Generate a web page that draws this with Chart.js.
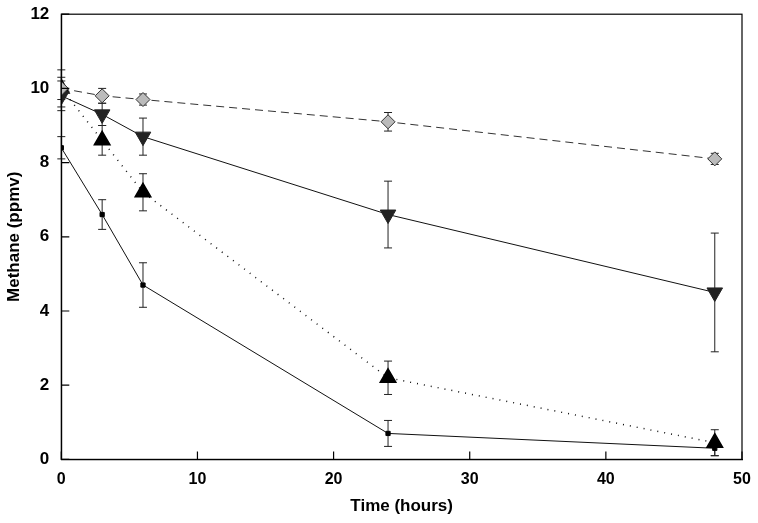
<!DOCTYPE html>
<html><head><meta charset="utf-8">
<script src="https://cdn.jsdelivr.net/npm/chart.js@4"></script>
<style>body{margin:0;background:#fff}#wrap{width:758px;height:523px}</style>
</head><body><div id="wrap"><canvas id="chart"></canvas></div>
<script>
const hores = [0, 3, 6, 24, 48];
const diamant = [10.0, 9.8, 9.7, 9.1, 8.1];
const diamantErr = [0.5, 0.2, 0.15, 0.25, 0.15];
const trInvers = [9.8, 9.3, 8.7, 6.6, 4.5];
const trInversErr = [0.4, 0.3, 0.5, 0.9, 1.6];
const triangle = [10.0, 8.6, 7.2, 2.2, 0.45];
const triangleErr = [0.3, 0.4, 0.5, 0.45, 0.35];
const quadrat = [8.4, 6.6, 4.7, 0.7, 0.3];
const quadratErr = [0.3, 0.4, 0.6, 0.35, 0.2];

function punts(vals, errs) {
  return hores.map((x, i) => ({ x: x, y: vals[i], e: errs[i] }));
}

// dibuixa les barres d'error fent servir les escales
const barresError = {
  id: 'barresError',
  beforeDatasetsDraw(chart) {
    const ctx = chart.ctx, xs = chart.scales.x, ys = chart.scales.y;
    ctx.save();
    ctx.strokeStyle = '#222';
    ctx.lineWidth = 1;
    chart.data.datasets.forEach(ds => {
      ds.data.forEach(p => {
        const px = xs.getPixelForValue(p.x);
        const y1 = ys.getPixelForValue(p.y + p.e), y2 = ys.getPixelForValue(p.y - p.e);
        ctx.beginPath();
        ctx.moveTo(px, y1); ctx.lineTo(px, y2);
        ctx.moveTo(px - 4, y1); ctx.lineTo(px + 4, y1);
        ctx.moveTo(px - 4, y2); ctx.lineTo(px + 4, y2);
        ctx.stroke();
      });
    });
    ctx.restore();
  }
};

// marc i marques cap a dins
const marc = {
  id: 'marc',
  afterDraw(chart) {
    const a = chart.chartArea, ctx = chart.ctx, xs = chart.scales.x, ys = chart.scales.y;
    ctx.save(); ctx.strokeStyle = '#000'; ctx.lineWidth = 1.2;
    ctx.strokeRect(a.left, a.top, a.right - a.left, a.bottom - a.top);
    ctx.beginPath();
    xs.ticks.forEach(t => { const p = xs.getPixelForValue(t.value); ctx.moveTo(p, a.bottom); ctx.lineTo(p, a.bottom - 8); });
    ys.ticks.forEach(t => { const p = ys.getPixelForValue(t.value); ctx.moveTo(a.left, p); ctx.lineTo(a.left + 8, p); });
    ctx.stroke();
    ctx.restore();
  }
};

new Chart(document.getElementById('chart'), {
  type: 'line',
  data: {
    datasets: [
      { data: punts(diamant, diamantErr), borderColor: '#333', borderWidth: 1, borderDash: [8, 5],
        pointStyle: 'rectRot', pointRadius: 7, pointBackgroundColor: '#bbb', pointBorderColor: '#333' },
      { data: punts(trInvers, trInversErr), borderColor: '#111', borderWidth: 1,
        pointStyle: 'triangle', rotation: 180, pointRadius: 9, pointBackgroundColor: '#222', pointBorderColor: '#222' },
      { data: punts(triangle, triangleErr), borderColor: '#111', borderWidth: 1.5, borderDash: [1, 6],
        pointStyle: 'triangle', pointRadius: 9, pointBackgroundColor: '#000', pointBorderColor: '#000' },
      { data: punts(quadrat, quadratErr), borderColor: '#111', borderWidth: 1,
        pointStyle: 'rect', pointRadius: 3, pointBackgroundColor: '#000', pointBorderColor: '#000' }
    ]
  },
  options: {
    responsive: true, maintainAspectRatio: false, animation: false,
    layout: { padding: { top: 12, right: 16, left: 2, bottom: 2 } },
    plugins: { legend: { display: false }, tooltip: { enabled: false } },
    scales: {
      x: { type: 'linear', min: 0, max: 50,
        ticks: { stepSize: 10, color: '#000', padding: 3, font: { family: 'Liberation Sans', size: 16, weight: 'bold' } },
        grid: { display: false },
        border: { color: '#000', width: 1.2 },
        title: { display: true, text: 'Time (hours)', color: '#000', padding: { top: 4 }, font: { family: 'Liberation Sans', size: 17, weight: 'bold' } } },
      y: { min: 0, max: 12,
        ticks: { stepSize: 2, color: '#000', padding: 4, font: { family: 'Liberation Sans', size: 17, weight: 'bold' } },
        grid: { display: false },
        border: { color: '#000', width: 1.2 },
        title: { display: true, text: 'Methane (ppmv)', color: '#000', padding: 2, font: { family: 'Liberation Sans', size: 17, weight: 'bold' } } }
    }
  },
  plugins: [barresError, marc]
});
</script></body></html>
